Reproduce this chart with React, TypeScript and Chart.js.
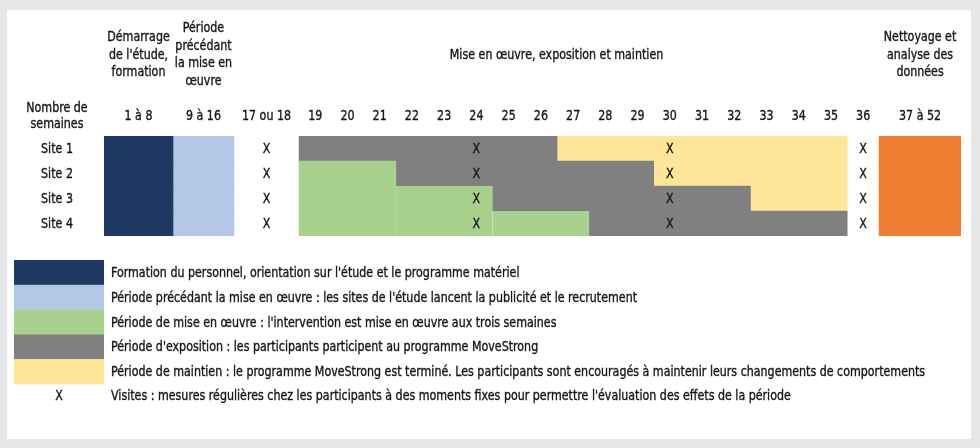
import React, { useEffect, useRef } from 'react';
import { Chart, registerables } from 'chart.js';

Chart.register(...registerables);

// ---------------- DATA ----------------
const sites = ['Site 1', 'Site 2', 'Site 3', 'Site 4'];

const columnLabels = [
  '1 à 8', '9 à 16', '17 ou 18',
  '19', '20', '21', '22', '23', '24', '25', '26', '27', '28', '29', '30', '31', '32', '33', '34', '35',
  '36', '37 à 52',
];
const columnFirstWeek = [1, 9, 17, 19, 20, 21, 22, 23, 24, 25, 26, 27, 28, 29, 30, 31, 32, 33, 34, 35, 36, 37];
const columnLastWeek = [8, 16, 18, 19, 20, 21, 22, 23, 24, 25, 26, 27, 28, 29, 30, 31, 32, 33, 34, 35, 36, 52];

const phaseLabels = [
  "Formation du personnel, orientation sur l'étude et le programme matériel",
  "Période précédant la mise en œuvre : les sites de l'étude lancent la publicité et le recrutement",
  "Période de mise en œuvre : l'intervention est mise en œuvre aux trois semaines",
  "Période d'exposition : les participants participent au programme MoveStrong",
  'Période de maintien : le programme MoveStrong est terminé. Les participants sont encouragés à maintenir leurs changements de comportements',
  'Nettoyage et analyse des données',
];
const visitLegendLabel =
  "Visites : mesures régulières chez les participants à des moments fixes pour permettre l'évaluation des effets de la période";

// [site, first week, last week]
const trainingSegments: [string, number, number][] = [
  ['Site 1', 1, 8], ['Site 2', 1, 8], ['Site 3', 1, 8], ['Site 4', 1, 8],
];
const preImplementationSegments: [string, number, number][] = [
  ['Site 1', 9, 16], ['Site 2', 9, 16], ['Site 3', 9, 16], ['Site 4', 9, 16],
];
const implementationSegments: [string, number, number][] = [
  ['Site 2', 19, 21],
  ['Site 3', 19, 21], ['Site 3', 22, 24],
  ['Site 4', 19, 21], ['Site 4', 22, 24], ['Site 4', 25, 27],
];
const exposureSegments: [string, number, number][] = [
  ['Site 1', 19, 26], ['Site 2', 22, 29], ['Site 3', 25, 32], ['Site 4', 28, 35],
];
const maintenanceSegments: [string, number, number][] = [
  ['Site 1', 27, 35], ['Site 2', 30, 35], ['Site 3', 33, 35],
];
const cleaningSegments: [string, number, number][] = [
  ['Site 1', 37, 52], ['Site 2', 37, 52], ['Site 3', 37, 52], ['Site 4', 37, 52],
];

const visitColumns = ['17 ou 18', '24', '30', '36'];

const groupHeaders = [
  { lines: ['Démarrage', "de l'étude,", 'formation'], from: '1 à 8', to: '1 à 8' },
  { lines: ['Période', 'précédant', 'la mise en', 'œuvre'], from: '9 à 16', to: '9 à 16' },
  { lines: ['Mise en œuvre, exposition et maintien'], from: '17 ou 18', to: '36' },
  { lines: ['Nettoyage et', 'analyse des', 'données'], from: '37 à 52', to: '37 à 52' },
];
const rowHeaderLines = ['Nombre de', 'semaines'];

// ---------------- LAYOUT / STYLE ----------------
const FONT = '"DejaVu Sans Condensed", "DejaVu Sans", sans-serif';
const FONT_SIZE = 14;
const SQUEEZE = 0.88;
const TEXT = '#161616';
const phaseColors = ['#1f3864', '#b4c7e7', '#a9d18e', '#808080', '#ffe699', '#ed7d31'];
// relative widths of table columns (one week column = 1)
const COLUMN_WEIGHTS = [2.14, 1.89, 2.02, 1, 1, 1, 1, 1, 1, 1, 1, 1, 1, 1, 1, 1, 1, 1, 1, 1, 0.99, 2.54];

const colStart: number[] = [];
{
  let acc = 0;
  for (const w of COLUMN_WEIGHTS) { colStart.push(acc); acc += w; }
}
const TOTAL = COLUMN_WEIGHTS.reduce((a, b) => a + b, 0);
const colCenter = (label: string) => {
  const i = columnLabels.indexOf(label);
  return colStart[i] + COLUMN_WEIGHTS[i] / 2;
};
const weekToX = (week: number, side: 'start' | 'end') => {
  const c = columnFirstWeek.findIndex((f, i) => week >= f && week <= columnLastWeek[i]);
  const n = columnLastWeek[c] - columnFirstWeek[c] + 1;
  const frac = side === 'start' ? (week - columnFirstWeek[c]) / n : (week - columnFirstWeek[c] + 1) / n;
  return colStart[c] + frac * COLUMN_WEIGHTS[c];
};
const toBars = (segs: [string, number, number][]) =>
  segs.map(([site, a, b]) => ({ x: [weekToX(a, 'start'), weekToX(b, 'end')], y: site }));

const allSegments = [
  trainingSegments, preImplementationSegments, implementationSegments,
  exposureSegments, maintenanceSegments, cleaningSegments,
];

function drawText(ctx: CanvasRenderingContext2D, text: string, x: number, y: number, align: CanvasTextAlign) {
  ctx.save();
  ctx.translate(x, y);
  ctx.scale(SQUEEZE, 1);
  ctx.textAlign = align;
  ctx.textBaseline = 'middle';
  ctx.fillText(text, 0, 0);
  ctx.lineWidth = 0.35;
  ctx.strokeStyle = TEXT;
  ctx.strokeText(text, 0, 0);
  ctx.restore();
}

const overlayPlugin = {
  id: 'overlay',
  afterDatasetsDraw(chart: any) {
    const { ctx, chartArea: area, scales } = chart;
    const xs = scales.x;
    const ys = scales.y;
    ctx.save();
    ctx.fillStyle = TEXT;
    ctx.font = `${FONT_SIZE}px ${FONT}`;

    // x axis tick labels (column headers)
    xs.ticks.forEach((t: any, i: number) => {
      drawText(ctx, String(t.label), xs.getPixelForTick(i), area.top - 20, 'center');
    });
    // y axis tick labels (sites)
    const rx = ys.left + 50;
    ys.ticks.forEach((t: any, i: number) => {
      drawText(ctx, String(t.label), rx, ys.getPixelForTick(i) + 1, 'center');
    });

    // visit marks
    sites.forEach((s) => {
      visitColumns.forEach((c) => {
        drawText(ctx, 'X', xs.getPixelForValue(colCenter(c)), ys.getPixelForValue(sites.indexOf(s)) + 1, 'center');
      });
    });

    // group headers
    const headerCenter = area.top - 81;
    const lh = 17.7;
    groupHeaders.forEach((g) => {
      const i0 = columnLabels.indexOf(g.from);
      const i1 = columnLabels.indexOf(g.to);
      const x = (xs.getPixelForValue(colStart[i0]) + xs.getPixelForValue(colStart[i1] + COLUMN_WEIGHTS[i1])) / 2;
      const n = g.lines.length;
      g.lines.forEach((line, k) => {
        drawText(ctx, line, x, headerCenter + (k - (n - 1) / 2) * lh, 'center');
      });
    });

    // row header
    rowHeaderLines.forEach((line, k) => {
      drawText(ctx, line, rx, area.top - 20 + (k - 0.5) * 16, 'center');
    });

    // legend
    const legTop = area.bottom + 24;
    const rowH = 24.8;
    const swLeft = 7;
    const swW = area.left - swLeft;
    for (let i = 0; i < 5; i++) {
      ctx.fillStyle = phaseColors[i];
      ctx.fillRect(swLeft, legTop + i * rowH, swW, rowH + 0.3);
    }
    ctx.fillStyle = TEXT;
    for (let i = 0; i < 5; i++) {
      drawText(ctx, phaseLabels[i], area.left + 7, legTop + i * rowH + rowH / 2 + 1, 'left');
    }
    drawText(ctx, 'X', swLeft + swW / 2, legTop + 5 * rowH + 12, 'center');
    drawText(ctx, visitLegendLabel, area.left + 7, legTop + 5 * rowH + 12, 'left');
    ctx.restore();
  },
};

export default function App() {
  const ref = useRef<HTMLCanvasElement | null>(null);
  useEffect(() => {
    if (!ref.current) return;
    const chart = new Chart(ref.current, {
      type: 'bar',
      data: {
        labels: sites,
        datasets: allSegments.map((segs, i) => ({
          label: phaseLabels[i],
          data: toBars(segs) as any,
          backgroundColor: phaseColors[i],
          borderColor: i === 2 ? '#bcdca6' : phaseColors[i],
          borderWidth: i === 2
            ? ((c: any) => (c.raw && c.raw.x[0] > colStart[3] + 0.01 ? { left: 1, right: 0, top: 0, bottom: 0 } : 0)) as any
            : 0,
          borderSkipped: false,
          categoryPercentage: 1,
          barPercentage: 1,
          grouped: false,
        })),
      },
      options: {
        indexAxis: 'y',
        animation: false,
        responsive: false,
        layout: { padding: { left: 0, right: 10, top: 0, bottom: 203 } },
        plugins: { legend: { display: false }, tooltip: { enabled: false } },
        scales: {
          x: {
            type: 'linear',
            position: 'top',
            min: 0,
            max: TOTAL,
            grid: { display: false, drawTicks: false },
            border: { display: false },
            afterBuildTicks: (scale: any) => {
              scale.ticks = columnLabels.map((l) => ({ value: colCenter(l) }));
            },
            afterFit: (scale: any) => { scale.height = 126; },
            ticks: {
              display: false,
              autoSkip: false,
              maxRotation: 0,
              minRotation: 0,
              callback: (_v: any, i: number) => columnLabels[i],
            },
          },
          y: {
            type: 'category',
            position: 'left',
            grid: { display: false, drawTicks: false },
            border: { display: false },
            afterFit: (scale: any) => { scale.width = 97; },
            ticks: { display: false },
          },
        },
      },
      plugins: [overlayPlugin],
    });
    return () => chart.destroy();
  }, []);

  return (
    <div style={{ position: 'fixed', left: 0, top: 0, width: 980, height: 448, background: '#e6e7e8' }}>
      <div style={{ position: 'absolute', left: 7, top: 10, width: 964, height: 429, background: '#ffffff' }}>
        <canvas ref={ref} width={964} height={429} style={{ display: 'block', width: 964, height: 429 }} />
      </div>
    </div>
  );
}
